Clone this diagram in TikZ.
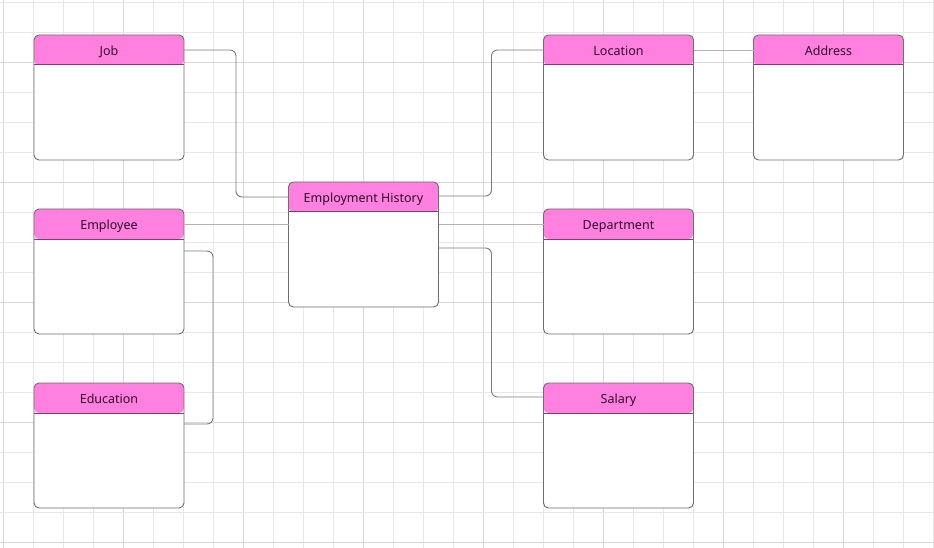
\documentclass[tikz,border=0pt]{standalone}
\usepackage{fontspec}
\setmainfont{Noto Sans}
\begin{document}
\definecolor{gridlight}{HTML}{E8E8E8}
\definecolor{griddark}{HTML}{D8D8D8}
\definecolor{headpink}{HTML}{FF80DF}
\definecolor{headline}{HTML}{7A3F6E}
\definecolor{boxline}{HTML}{6E6E6E}
\definecolor{inktext}{HTML}{2E0B2A}
\definecolor{linkdark}{HTML}{7C7C7C}
\definecolor{linklight}{HTML}{B4B4B4}
\begin{tikzpicture}[x=1pt,y=-1pt,
  entity/.style={draw=boxline, line width=0.9pt, fill=white,
    rounded corners=5pt, minimum width=150pt, minimum height=125pt,
    inner sep=0pt, outer sep=0pt,
    path picture={
      \fill[headpink] (path picture bounding box.north west)
        rectangle ([yshift=-30pt]path picture bounding box.north east);
      \draw[headline, line width=1pt]
        ([yshift=-30pt]path picture bounding box.north west)
        -- ([yshift=-30pt]path picture bounding box.north east);
      \node[text=inktext, font=\fontsize{12.5}{14}\selectfont, anchor=base,
            inner sep=0pt]
        at ([yshift=-20.5pt]path picture bounding box.north) {#1};
    }},
  link/.style={draw=linkdark, line width=0.9pt, rounded corners=6pt},
  softlink/.style={draw=linklight, line width=0.9pt}
]
\useasboundingbox (0,0) rectangle (934,548);
\fill[white] (0,0) rectangle (934,548);

% background grid, every fourth line a little stronger
\foreach \k in {0,...,31}{
  \pgfmathtruncatemacro{\gx}{3+30*\k}
  \pgfmathtruncatemacro{\m}{mod(\k,4)}
  \ifnum\m=0
    \draw[griddark, line width=0.8pt] (\gx,0) -- (\gx,548);
  \else
    \draw[gridlight, line width=0.8pt] (\gx,0) -- (\gx,548);
  \fi
}
\foreach \k in {0,...,18}{
  \pgfmathtruncatemacro{\gy}{2+30*\k}
  \pgfmathtruncatemacro{\m}{mod(\k,4)}
  \ifnum\m=2
    \draw[griddark, line width=0.8pt] (0,\gy) -- (934,\gy);
  \else
    \draw[gridlight, line width=0.8pt] (0,\gy) -- (934,\gy);
  \fi
}

% entities
\node[entity=Job]                (job)  at (109,97.5)   {};
\node[entity=Employee]           (emp)  at (109,271.5)  {};
\node[entity=Education]          (edu)  at (109,445.5)  {};
\node[entity=Employment History] (eh)   at (363.5,244.5){};
\node[entity=Location]           (loc)  at (618.5,97.5) {};
\node[entity=Address]            (addr) at (828.5,97.5) {};
\node[entity=Department]         (dept) at (618.5,271.5){};
\node[entity=Salary]             (sal)  at (618.5,445.5){};

% relationships
\draw[link] ([yshift=-15pt]job.north east) -- ++(52,0)
  |- ([yshift=-15pt]eh.north west);
\draw[link] ([yshift=-14pt]eh.north east) -- ++(53,0)
  |- ([yshift=-15pt]loc.north west);
\draw[softlink] ([yshift=-15pt]loc.north east) -- ([yshift=-15pt]addr.north west);
\draw[softlink] ([yshift=-15pt]emp.north east) -- ([yshift=-15pt]emp.north east -| eh.west);
\draw[softlink] ([yshift=-15pt]dept.north west -| eh.east) -- ([yshift=-15pt]dept.north west);
\draw[link] ([yshift=-42pt]emp.north east) -- ++(29,0)
  |- ([yshift=-41pt]edu.north east);
\draw[link] ([yshift=-66pt]eh.north east) -- ++(53,0)
  |- ([yshift=-14pt]sal.north west);
\end{tikzpicture}
\end{document}
